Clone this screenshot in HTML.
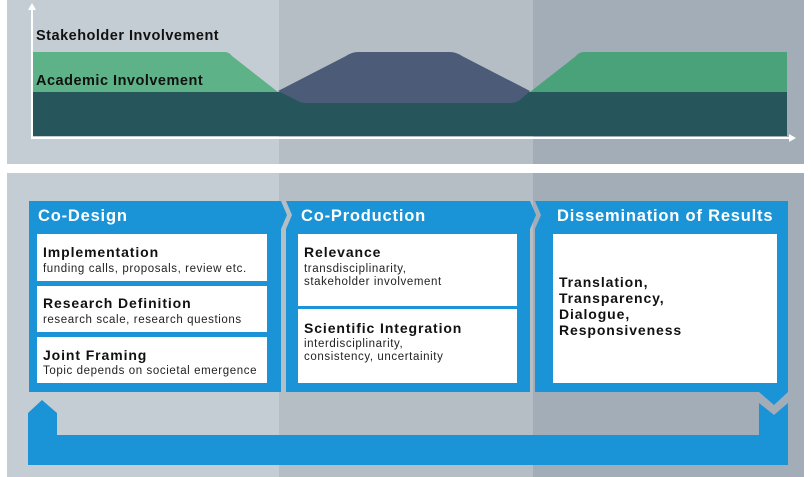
<!DOCTYPE html>
<html><head><meta charset="utf-8"><style>
html,body{margin:0;padding:0;background:#fff;}
svg{display:block;font-family:"Liberation Sans",sans-serif;}
.h{fill:#fff;font-weight:bold;font-size:16.5px;letter-spacing:0.8px;}
.t{fill:#111;font-weight:bold;font-size:14px;letter-spacing:0.9px;}
.c{fill:#111;font-weight:bold;font-size:14.5px;letter-spacing:0.5px;}
.s{fill:#222;font-size:11.5px;letter-spacing:0.6px;}
</style></head><body>
<svg width="811" height="477" viewBox="0 0 811 477" xmlns="http://www.w3.org/2000/svg">
<rect x="0" y="0" width="811" height="477" fill="#fff"/>
<rect x="7" y="0" width="272" height="164" fill="#c5cdd4"/>
<rect x="279" y="0" width="254" height="164" fill="#b4bec4"/>
<rect x="533" y="0" width="271" height="164" fill="#a2adb8"/>
<rect x="7" y="173" width="272" height="304" fill="#c5cdd4"/>
<rect x="279" y="173" width="254" height="304" fill="#b4bec4"/>
<rect x="533" y="173" width="271" height="304" fill="#a2adb8"/>
<path d="M32 52 L225 52 Q229 52 232 56 L278 92 L32 92 Z" fill="#5db287"/>
<path d="M530 92 L576 56 Q579 52 584 52 L787 52 L787 92 Z" fill="#4aa27a"/>
<rect x="32" y="92" width="755" height="44" fill="#26555c"/>
<path d="M278 91 L346 56 Q352 52 358 52 L450 52 Q456 52 462 56 L530 91 L520 100 Q516 103 510 103 L306 103 Q300 103 296 100 Z" fill="#4c5c78"/>
<line x1="32" y1="6" x2="32" y2="138" stroke="#fff" stroke-width="2"/>
<path d="M28 10 L32 3 L36 10 Z" fill="#fff"/>
<line x1="31" y1="138" x2="792" y2="138" stroke="#fff" stroke-width="2"/>
<path d="M789 134 L796 138 L789 142 Z" fill="#fff"/>
<text x="36" y="40" class="c">Stakeholder Involvement</text>
<text x="36" y="85" class="c">Academic Involvement</text>
<path d="M29 201 L281 201 L287 215 L281 229 L281 392 L29 392 Z" fill="#1a94d6"/>
<path d="M286 201 L530 201 L536 215 L530 229 L530 392 L286 392 L286 229 L292 215 Z" fill="#1a94d6"/>
<path d="M535 201 L788 201 L788 392 L774 405 L759 392 L535 392 L535 229 L541 215 Z" fill="#1a94d6"/>
<path d="M28 413 L42 400 L57 413 L57 435 L759 435 L759 403 L774 415 L788 403 L788 465 L28 465 Z" fill="#1a94d6"/>
<text x="38" y="221" class="h">Co-Design</text>
<text x="301" y="221" class="h">Co-Production</text>
<text x="557" y="221" class="h">Dissemination of Results</text>
<rect x="37" y="234" width="230" height="47" fill="#fff"/>
<rect x="37" y="286" width="230" height="46" fill="#fff"/>
<rect x="37" y="337" width="230" height="46" fill="#fff"/>
<rect x="298" y="234" width="219" height="72" fill="#fff"/>
<rect x="298" y="309" width="219" height="74" fill="#fff"/>
<rect x="553" y="234" width="224" height="149" fill="#fff"/>
<text x="43" y="257" class="t">Implementation</text>
<text x="43" y="272" class="s">funding calls, proposals, review etc.</text>
<text x="43" y="308" class="t">Research Definition</text>
<text x="43" y="323" class="s">research scale, research questions</text>
<text x="43" y="360" class="t">Joint Framing</text>
<text x="43" y="374" class="s">Topic depends on societal emergence</text>
<text x="304" y="257" class="t">Relevance</text>
<text x="304" y="272" class="s">transdisciplinarity,</text>
<text x="304" y="285" class="s">stakeholder involvement</text>
<text x="304" y="333" class="t">Scientific Integration</text>
<text x="304" y="347" class="s">interdisciplinarity,</text>
<text x="304" y="360" class="s">consistency, uncertainity</text>
<text x="559" y="287" class="t">Translation,</text>
<text x="559" y="303" class="t">Transparency,</text>
<text x="559" y="319" class="t">Dialogue,</text>
<text x="559" y="335" class="t">Responsiveness</text>
</svg>
</body></html>
